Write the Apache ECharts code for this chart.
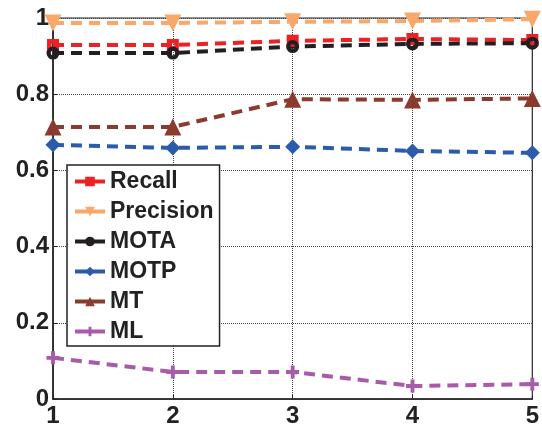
<!DOCTYPE html>
<html>
<head>
<meta charset="utf-8">
<script src="https://cdn.jsdelivr.net/npm/echarts@6/dist/echarts.min.js"></script>
<style>
  html, body { margin: 0; padding: 0; background: #fff; }
  #chart { width: 542px; height: 428px; }
</style>
</head>
<body>
<div id="chart"></div>
<script>
// x positions and tick labels
var xValues = [1, 2, 3, 4, 5];
var yTicks = [0, 0.2, 0.4, 0.6, 0.8, 1];

// series values
var recall    = [0.929, 0.929, 0.940, 0.945, 0.942];
var precision = [0.987, 0.987, 0.990, 0.992, 0.997];
var mota      = [0.908, 0.908, 0.925, 0.932, 0.934];
var motp      = [0.667, 0.659, 0.662, 0.651, 0.646];
var mt        = [0.714, 0.714, 0.787, 0.785, 0.789];
var ml        = [0.108, 0.071, 0.071, 0.034, 0.039];

// marker shapes (thick outline with a small white hole, like the matlab ones)
var plusPath = 'path://M3.5,0 L6.5,0 L6.5,3.5 L10,3.5 L10,6.5 L6.5,6.5 L6.5,10 L3.5,10 L3.5,6.5 L0,6.5 L0,3.5 L3.5,3.5 Z';
var downTri = 'path://M0,0 L10,0 L5,9 Z';
var holeRect = 'path://M0,0 L10,0 L10,10 L0,10 Z M3.8,3.8 L3.8,6.2 L6.2,6.2 L6.2,3.8 Z';
var holeCircle = 'path://M5,0 A5,5 0 1,1 5,10 A5,5 0 1,1 5,0 Z M5,3.2 A1.8,1.8 0 1,0 5,6.8 A1.8,1.8 0 1,0 5,3.2 Z';

function pairs(vals) {
  return vals.map(function (v, i) { return [xValues[i], v]; });
}

function makeSeries(name, vals, color, symbol, size) {
  return {
    name: name,
    type: 'line',
    data: pairs(vals),
    symbol: symbol,
    symbolSize: size,
    lineStyle: { color: color, width: 4, type: [11, 7] },
    itemStyle: { color: color, borderWidth: 0 },
    emphasis: { disabled: true },
    animation: false
  };
}

var chart = echarts.init(document.getElementById('chart'));
var fontFam = '"Liberation Sans", Arial, sans-serif';

var legendNames = ['Recall', 'Precision', 'MOTA', 'MOTP', 'MT', 'ML'];

var option = {
  backgroundColor: '#fff',
  animation: false,
  grid: {
    left: 53, right: 6, top: 18, bottom: 29,
    show: true, borderColor: '#222', borderWidth: 1.2
  },
  legend: {
    orient: 'vertical',
    left: 67, top: 165,
    padding: [5, 6, 3, 6],
    itemWidth: 30, itemHeight: 12, itemGap: 7,
    backgroundColor: '#fff',
    borderColor: '#222', borderWidth: 1.5, borderRadius: 0,
    textStyle: { fontFamily: fontFam, fontWeight: 'bold', fontSize: 23, color: '#222', lineHeight: 21 },
    lineStyle: { type: 'solid', width: 4 },
    data: legendNames
  },
  xAxis: {
    type: 'value', min: 1, max: 5, interval: 1,
    axisLine: { show: true, lineStyle: { color: '#222', width: 1.5 } },
    axisTick: { show: true, inside: true, length: 4, lineStyle: { color: '#222' } },
    axisLabel: { fontFamily: fontFam, fontWeight: 'bold', fontSize: 24, color: '#222', margin: 5 },
    splitLine: { show: true, lineStyle: { color: '#444', type: 'dotted', width: 1 } }
  },
  yAxis: {
    type: 'value', min: 0, max: 1, interval: 0.2,
    axisLine: { show: true, lineStyle: { color: '#222', width: 1.5 } },
    axisTick: { show: true, inside: true, length: 4, lineStyle: { color: '#222' } },
    axisLabel: {
      fontFamily: fontFam, fontWeight: 'bold', fontSize: 24, color: '#222', margin: 4,
      formatter: function (v) {
        var t = yTicks.filter(function (k) { return Math.abs(k - v) < 1e-6; })[0];
        return t === undefined ? '' : String(t);
      }
    },
    splitLine: { show: true, lineStyle: { color: '#444', type: 'dotted', width: 1 } }
  },
  series: [
    makeSeries('Recall', recall, '#ED2024', holeRect, 12),
    makeSeries('Precision', precision, '#F9A86A', downTri, 17),
    makeSeries('MOTA', mota, '#231F20', holeCircle, 13),
    makeSeries('MOTP', motp, '#2B5BAA', 'diamond', 15),
    makeSeries('MT', mt, '#8B3A2E', 'triangle', 17),
    makeSeries('ML', ml, '#A85BA8', plusPath, 13)
  ]
};

chart.setOption(option);
</script>
</body>
</html>
